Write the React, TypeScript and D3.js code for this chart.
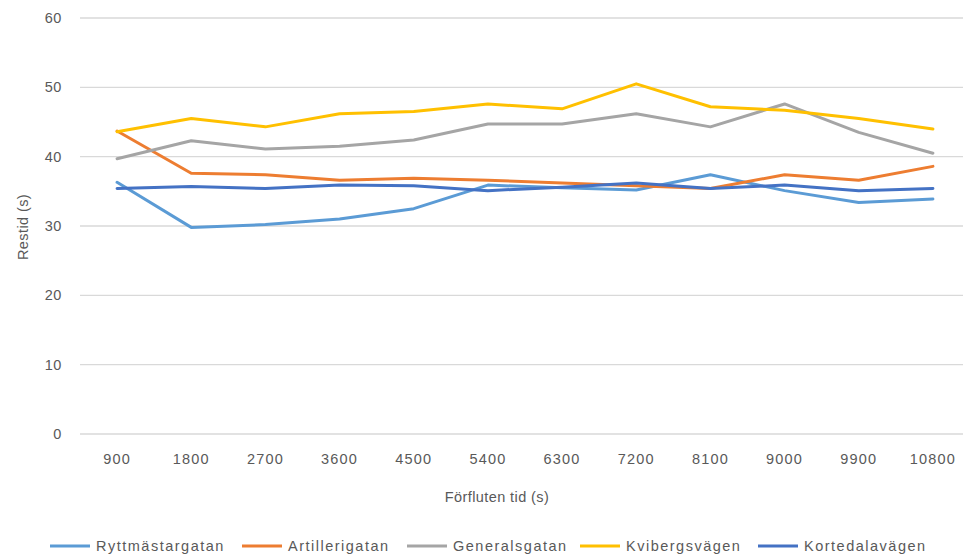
import React from "react";
import * as d3 from "d3";

const categories = ["900", "1800", "2700", "3600", "4500", "5400", "6300", "7200", "8100", "9000", "9900", "10800"];
const seriesNames = ["Ryttmästargatan", "Artillerigatan", "Generalsgatan", "Kvibergsvägen", "Kortedalavägen"];
const ryttmastargatan = [36.3, 29.8, 30.2, 31.0, 32.5, 35.9, 35.5, 35.2, 37.4, 35.1, 33.4, 33.9];
const artillerigatan = [43.7, 37.6, 37.4, 36.6, 36.9, 36.6, 36.2, 35.8, 35.4, 37.4, 36.6, 38.6];
const generalsgatan = [39.7, 42.3, 41.1, 41.5, 42.4, 44.7, 44.7, 46.2, 44.3, 47.6, 43.5, 40.5];
const kvibergsvagen = [43.6, 45.5, 44.3, 46.2, 46.5, 47.6, 46.9, 50.5, 47.2, 46.7, 45.5, 44.0];
const kortedalavagen = [35.4, 35.7, 35.4, 35.9, 35.8, 35.1, 35.6, 36.2, 35.4, 35.9, 35.1, 35.4];
const yTicks = [0, 10, 20, 30, 40, 50, 60];
const colors = ["#5B9BD5", "#ED7D31", "#A5A5A5", "#FFC000", "#4472C4"];

const seriesValues = [ryttmastargatan, artillerigatan, generalsgatan, kvibergsvagen, kortedalavagen];

const W = 963;
const H = 559;
const FONT = "'Liberation Sans', Arial, sans-serif";
const TEXT = "#595959";

export default function App() {
  const x = d3.scaleBand().domain(categories).range([80, 970]);
  const y = d3.scaleLinear().domain([0, 60]).range([434, 18]);
  const line = d3
    .line<number>()
    .x((_, i) => (x(categories[i]) as number) + x.bandwidth() / 2)
    .y((d) => y(d));

  const legendX = [50, 242, 407, 580, 758];

  return (
    <svg
      width={W}
      height={H}
      style={{ position: "absolute", left: 0, top: 0, background: "#fff" }}
      fontFamily={FONT}
    >
      <rect width={W} height={H} fill="#fff" />
      {yTicks.map((t) => (
        <g key={t}>
          <line x1={80} x2={W} y1={y(t)} y2={y(t)} stroke="#D9D9D9" strokeWidth={1.3} />
          <text x={62} y={y(t)} dy="0.35em" textAnchor="end" fontSize={14.5} fill={TEXT} letterSpacing={0.6}>
            {t}
          </text>
        </g>
      ))}
      {categories.map((c) => (
        <text
          key={c}
          x={(x(c) as number) + x.bandwidth() / 2}
          y={459}
          dy="0.35em"
          textAnchor="middle"
          fontSize={14.5}
          fill={TEXT}
          letterSpacing={1.2}
        >
          {c}
        </text>
      ))}
      <text x={497} y={497} dy="0.35em" textAnchor="middle" fontSize={14.5} fill={TEXT} letterSpacing={0.4}>
        Förfluten tid (s)
      </text>
      <text
        transform={`translate(23,227) rotate(-90)`}
        dy="0.35em"
        textAnchor="middle"
        fontSize={14.5}
        fill={TEXT}
        letterSpacing={0.4}
      >
        Restid (s)
      </text>
      {seriesValues.map((vals, i) => (
        <path
          key={seriesNames[i]}
          d={line(vals) as string}
          fill="none"
          stroke={colors[i]}
          strokeWidth={3}
          strokeLinejoin="round"
          strokeLinecap="round"
        />
      ))}
      {seriesNames.map((n, i) => (
        <g key={n}>
          <line
            x1={legendX[i]}
            x2={legendX[i] + 40}
            y1={546}
            y2={546}
            stroke={colors[i]}
            strokeWidth={3}
          />
          <text
            x={legendX[i] + 46}
            y={546}
            dy="0.35em"
            fontSize={14.5}
            fill={TEXT}
            letterSpacing={1.5}
          >
            {n}
          </text>
        </g>
      ))}
    </svg>
  );
}
